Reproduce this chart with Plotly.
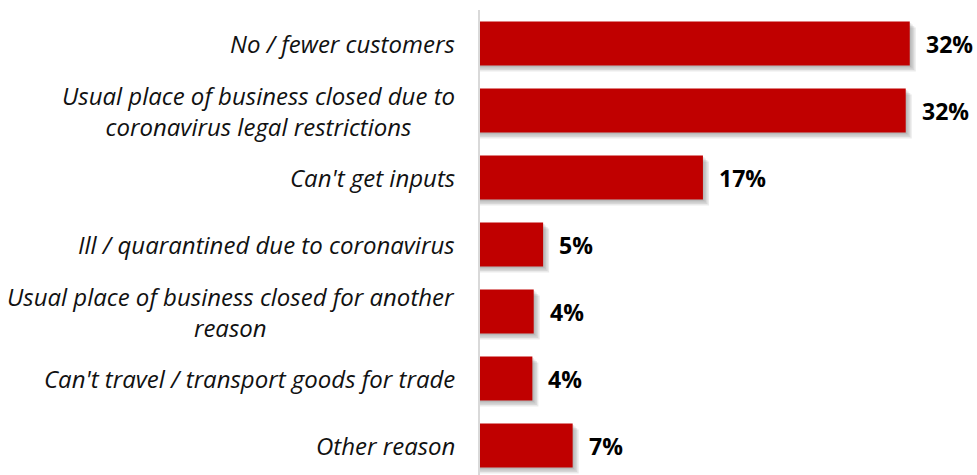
import plotly.graph_objects as go

# Reasons for not working, share of respondents (%)
categories = [
    "No / fewer customers",
    "Usual place of business closed due to<br>coronavirus legal restrictions",
    "Can't get inputs",
    "Ill / quarantined due to coronavirus",
    "Usual place of business closed for another<br>reason",
    "Can't travel / transport goods for trade",
    "Other reason",
]
shares = [32.0, 31.7, 16.6, 4.7, 4.0, 3.9, 6.9]

BAR_RED = "#C00000"
TEXT = "#111111"

positions = list(range(len(categories)))

PX_PER_UNIT_X = 13.43   # pixels per percentage point on the value axis
PX_PER_UNIT_Y = 67.0    # pixels per category step

fig = go.Figure()

# soft drop shadow built from a few translucent offset copies of each bar
for d in (1.5, 3.0, 4.5, 6.0):
    fig.add_trace(go.Bar(
        x=[v + d / PX_PER_UNIT_X for v in shares],
        y=[p + d / PX_PER_UNIT_Y for p in positions],
        orientation="h",
        width=0.657,
        marker=dict(color="rgba(90,90,90,0.13)", line=dict(width=0)),
        hoverinfo="skip",
        showlegend=False,
    ))

fig.add_trace(go.Bar(
    x=shares,
    y=positions,
    orientation="h",
    width=0.657,
    marker=dict(color=BAR_RED, line=dict(width=0)),
    showlegend=False,
))

annotations = []
# category labels, right-aligned against the axis, lines centred
for p, name in zip(positions, categories):
    annotations.append(dict(
        x=0, xref="paper", y=p, yref="y",
        text=name, showarrow=False,
        xanchor="right", yanchor="middle", align="center",
        xshift=-23,
        font=dict(family="Open Sans", size=24, color=TEXT, style="italic"),
    ))
# value labels just past the end of each bar
for p, v in zip(positions, shares):
    annotations.append(dict(
        x=v, xref="x", y=p, yref="y",
        text=f"{v:.0f}%", showarrow=False,
        xanchor="left", yanchor="middle",
        xshift=14,
        font=dict(family="Open Sans", size=23, color="#000000", weight="bold"),
    ))

fig.update_layout(
    width=977, height=475,
    margin=dict(l=480, r=0, t=10, b=0),
    paper_bgcolor="white", plot_bgcolor="white",
    barmode="overlay",
    xaxis=dict(range=[0, 497 / PX_PER_UNIT_X], visible=False, fixedrange=True),
    yaxis=dict(
        range=[6.44, -0.5], showticklabels=False, ticks="",
        showgrid=False, zeroline=False,
        showline=True, linecolor="#d9d9d9", linewidth=2,
        fixedrange=True,
    ),
    annotations=annotations,
)

fig.write_html("out.html")
